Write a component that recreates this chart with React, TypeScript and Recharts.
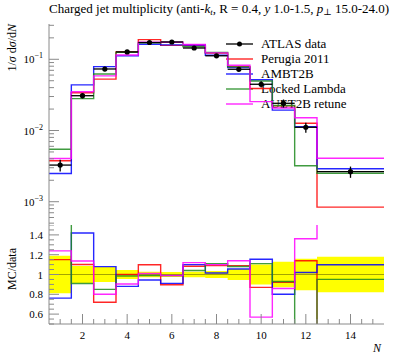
import React from "react";
import {
  Area,
  ComposedChart,
  ErrorBar,
  Label,
  Legend,
  Line,
  Scatter,
  XAxis,
  YAxis,
} from "recharts";

// bins of the charged-particle multiplicity N
const binEdges = [0.5, 1.5, 2.5, 3.5, 4.5, 5.5, 6.5, 7.5, 8.5, 9.5, 10.5, 11.5, 12.5, 15.5];
const binCentres = [1, 2, 3, 4, 5, 6, 7, 8, 9, 10, 11, 12, 14];
const binHalfWidths = [0.5, 0.5, 0.5, 0.5, 0.5, 0.5, 0.5, 0.5, 0.5, 0.5, 0.5, 0.5, 1.5];

// 1/sigma dsigma/dN
const atlasData = [3.27e-3, 0.0308, 0.0731, 0.127, 0.172, 0.175, 0.144, 0.112, 0.0724, 0.0446, 0.0241, 0.0111, 2.64e-3];
const atlasRelErr = [0.19, 0.085, 0.075, 0.045, 0.028, 0.024, 0.028, 0.035, 0.055, 0.1, 0.13, 0.16, 0.18];

const perugia2011 = [3.76e-3, 0.0339, 0.0526, 0.127, 0.189, 0.157, 0.156, 0.122, 0.0789, 0.0388, 0.0222, 0.01265, 8.4e-4];
const ambt2b = [2.49e-3, 0.0437, 0.0789, 0.1118, 0.1625, 0.1593, 0.1584, 0.1137, 0.0764, 0.0515, 0.0193, 0.01132, 2.9e-3];
const lockedLambda = [5.46e-3, 0.028, 0.0621, 0.1251, 0.1703, 0.1733, 0.1498, 0.1243, 0.0782, 0.0495, 0.0224, 3.2e-3, 2.51e-3];
const auet2bRetune = [4.05e-3, 0.035, 0.0585, 0.1149, 0.1737, 0.1733, 0.1613, 0.1232, 0.0825, 0.0254, 0.0207, 0.0151, 4.07e-3];

// axes
const xTickLabels = [2, 4, 6, 8, 10, 12, 14];
const xMinorTicks = [1, 1.5, 2, 2.5, 3, 3.5, 4, 4.5, 5, 5.5, 6, 6.5, 7, 7.5, 8, 8.5, 9, 9.5, 10, 10.5, 11, 11.5, 12, 12.5, 13, 13.5, 14, 14.5, 15];
const logDomain = [4.71e-4, 0.313];
const logDecades = [-4, -3, -2, -1];
const ratioDomain = [0.5, 1.5];
const ratioMajor = [0.6, 0.8, 1, 1.2, 1.4];
const ratioTickLabels = ["0.6", "0.8", "1", "1.2", "1.4"];
const ratioMinorTicks = [0.5, 0.55, 0.6, 0.65, 0.7, 0.75, 0.8, 0.85, 0.9, 0.95, 1, 1.05, 1.1, 1.15, 1.2, 1.25, 1.3, 1.35, 1.4, 1.45, 1.5];

const FONT = "'Liberation Serif', 'Times New Roman', Times, 'DejaVu Serif', serif";
const AXIS = "#8a8a8a";

const series = [
  { key: "perugia", name: "Perugia 2011", color: "#ff0000", values: perugia2011 },
  { key: "ambt2b", name: "AMBT2B", color: "#0000ff", values: ambt2b },
  { key: "locked", name: "Locked Lambda", color: "#1f8a1f", values: lockedLambda },
  { key: "auet2b", name: "AUET2B retune", color: "#ff00ff", values: auet2bRetune },
];

const rows = binEdges.map((x, i) => {
  const b = Math.min(i, atlasData.length - 1);
  const row: Record<string, any> = { x, one: 1, band: [1 - atlasRelErr[b], 1 + atlasRelErr[b]] };
  series.forEach((s) => {
    row[s.key] = s.values[b];
    row[s.key + "R"] = s.values[b] / atlasData[b];
  });
  return row;
});

const points = binCentres.map((x, i) => ({
  x,
  y: atlasData[i],
  ex: binHalfWidths[i],
  ey: atlasData[i] * atlasRelErr[i],
}));

const logTicks: number[] = [];
logDecades.forEach((d) => {
  for (let m = 1; m <= 9; m++) {
    const v = m * Math.pow(10, d);
    if (v >= logDomain[0] && v <= logDomain[1]) logTicks.push(v);
  }
});

const xTick = (side: "top" | "bottom", withLabel: boolean) => (p: any) => {
  const v = p.payload.value;
  const major = xTickLabels.includes(v);
  const dir = side === "bottom" ? -1 : 1;
  return (
    <g>
      <line x1={p.x} x2={p.x} y1={p.y} y2={p.y + dir * (major ? 10 : 5)} stroke={AXIS} />
      {withLabel && major && (
        <text x={p.x} y={p.y + 15} textAnchor="middle" fontSize={11} fontFamily={FONT} fill="#000">
          {v}
        </text>
      )}
    </g>
  );
};

const logTick = (side: "left" | "right") => (p: any) => {
  const v = p.payload.value;
  const lg = Math.log10(v);
  const major = Math.abs(lg - Math.round(lg)) < 1e-9;
  const dir = side === "left" ? 1 : -1;
  return (
    <g>
      <line x1={p.x} x2={p.x + dir * (major ? 10 : 5)} y1={p.y} y2={p.y} stroke={AXIS} />
      {side === "left" && major && (
        <text x={p.x - 6} y={p.y + 4} textAnchor="end" fontSize={11} fontFamily={FONT} fill="#000">
          10
          <tspan dy={-5} fontSize={8}>
            {"\u2212" + Math.abs(Math.round(lg))}
          </tspan>
        </text>
      )}
    </g>
  );
};

const ratioTick = (side: "left" | "right") => (p: any) => {
  const v = p.payload.value;
  const idx = ratioMajor.findIndex((m) => Math.abs(m - v) < 1e-6);
  const dir = side === "left" ? 1 : -1;
  return (
    <g>
      <line x1={p.x} x2={p.x + dir * (idx >= 0 ? 10 : 5)} y1={p.y} y2={p.y} stroke={AXIS} />
      {side === "left" && idx >= 0 && (
        <text x={p.x - 6} y={p.y + 4} textAnchor="end" fontSize={11} fontFamily={FONT} fill="#000">
          {ratioTickLabels[idx]}
        </text>
      )}
    </g>
  );
};

// y label of the upper panel, plus the plot title above the frame
const renderYLabel = (props: any) => {
  const vb = props.viewBox;
  const x = vb.x + 16;
  const y = vb.y;
  return (
    <g>
      <text x={x} y={y} transform={`rotate(-90 ${x} ${y})`} textAnchor="end" fontSize={12} fontFamily={FONT} fill="#000">
        1/<tspan fontStyle="italic">{"\u03c3"}</tspan> d<tspan fontStyle="italic">{"\u03c3"}</tspan>/d
        <tspan fontStyle="italic">N</tspan>
      </text>
      <text x={vb.x + vb.width} y={vb.y - 11} fontSize={13} fontFamily={FONT} fill="#000">
        Charged jet multiplicity (anti-
        <tspan fontStyle="italic">k</tspan>
        <tspan fontStyle="italic" fontSize={9} dy={2}>t</tspan>
        <tspan dy={-2}>, R = 0.4, </tspan>
        <tspan fontStyle="italic">y</tspan>
        <tspan> 1.0-1.5, </tspan>
        <tspan fontStyle="italic">p</tspan>
        <tspan fontSize={9} dy={2}>{"\u22a5"}</tspan>
        <tspan dy={-2}> 15.0-24.0)</tspan>
      </text>
    </g>
  );
};

const renderRatioLabel = (props: any) => {
  const vb = props.viewBox;
  const x = vb.x + 16;
  const y = vb.y + 44;
  return (
    <text x={x} y={y} transform={`rotate(-90 ${x} ${y})`} textAnchor="middle" fontSize={12} fontFamily={FONT} fill="#000">
      MC/data
    </text>
  );
};

const renderXLabel = (props: any) => {
  const vb = props.viewBox;
  return (
    <text x={vb.x + vb.width - 3} y={vb.y + 28} textAnchor="end" fontSize={12} fontStyle="italic" fontFamily={FONT} fill="#000">
      N
    </text>
  );
};

const renderLegend = () => (
  <div style={{ fontFamily: FONT, fontSize: 13, color: "#000" }}>
    {[{ name: "ATLAS data", color: "#000", dot: true }, ...series.map((s) => ({ name: s.name, color: s.color, dot: false }))].map(
      (item) => (
        <div key={item.name} style={{ display: "flex", alignItems: "center", height: 14.9 }}>
          <svg width={35} height={10} style={{ flex: "none" }}>
            <line x1={0} x2={27} y1={5} y2={5} stroke={item.color} strokeWidth={item.dot ? 1.3 : 1.2} />
            {item.dot && <circle cx={13.5} cy={5} r={2.5} fill="#000" />}
          </svg>
          <span style={{ whiteSpace: "nowrap" }}>{item.name}</span>
        </div>
      )
    )}
  </div>
);

const dataDot = (p: any) => <circle cx={p.cx} cy={p.cy} r={2.6} fill="#000" />;

export default function App() {
  return (
    <div style={{ position: "absolute", left: 0, top: 0, width: 397, height: 358, background: "#fff", zIndex: 0 }}>
      <div style={{ position: "absolute", left: 0, top: 0 }}>
        <ComposedChart width={397} height={225} data={rows} margin={{ top: 24, right: 13, bottom: 0, left: 0 }}>
          <XAxis dataKey="x" type="number" domain={[0.5, 15.5]} allowDataOverflow ticks={xMinorTicks} interval={0}
            height={0} tickSize={0} tickMargin={0} tickLine={false} tick={xTick("bottom", false)} stroke={AXIS} />
          <XAxis xAxisId="top" orientation="top" dataKey="x" type="number" domain={[0.5, 15.5]} allowDataOverflow
            ticks={xMinorTicks} interval={0} height={0} tickSize={0} tickMargin={0} tickLine={false}
            tick={xTick("top", false)} stroke={AXIS} />
          <YAxis scale="log" type="number" domain={logDomain} allowDataOverflow ticks={logTicks} interval={0} width={49}
            tickSize={0} tickMargin={0} tickLine={false} tick={logTick("left")} stroke={AXIS}>
            <Label content={renderYLabel} />
          </YAxis>
          <YAxis yAxisId="right" orientation="right" scale="log" type="number" domain={logDomain} allowDataOverflow
            ticks={logTicks} interval={0} width={0} tickSize={0} tickMargin={0} tickLine={false}
            tick={logTick("right")} stroke={AXIS} />
          <Legend content={renderLegend} layout="vertical" align="center" verticalAlign="middle"
            wrapperStyle={{ left: 226, top: 36.5, width: 165, zIndex: -1 }} />
          {series.map((s) => (
            <Line key={s.key} type="stepAfter" dataKey={s.key} stroke={s.color} strokeWidth={1.4} strokeOpacity={0.85}
              dot={false} activeDot={false} isAnimationActive={false} />
          ))}
          <Scatter data={points} dataKey="y" shape={dataDot} isAnimationActive={false}>
            <ErrorBar dataKey="ey" direction="y" width={0} stroke="#000" strokeWidth={1.3} />
            <ErrorBar dataKey="ex" direction="x" width={0} stroke="#000" strokeWidth={1.3} />
          </Scatter>
        </ComposedChart>
      </div>
      <div style={{ position: "absolute", left: 0, top: 225 }}>
        <ComposedChart width={397} height={133} data={rows} margin={{ top: 0, right: 13, bottom: 0, left: 0 }}>
          <XAxis dataKey="x" type="number" domain={[0.5, 15.5]} allowDataOverflow ticks={xMinorTicks} interval={0}
            height={34} tickSize={0} tickMargin={0} tickLine={false} tick={xTick("bottom", true)} stroke={AXIS}>
            <Label content={renderXLabel} />
          </XAxis>
          <XAxis xAxisId="top" orientation="top" dataKey="x" type="number" domain={[0.5, 15.5]} allowDataOverflow
            ticks={xMinorTicks} interval={0} height={0} tickSize={0} tickMargin={0} tickLine={false}
            tick={xTick("top", false)} stroke={AXIS} />
          <YAxis type="number" domain={ratioDomain} allowDataOverflow ticks={ratioMinorTicks} interval={0} width={49}
            tickSize={0} tickMargin={0} tickLine={false} tick={ratioTick("left")} stroke={AXIS}>
            <Label content={renderRatioLabel} />
          </YAxis>
          <YAxis yAxisId="right" orientation="right" type="number" domain={ratioDomain} allowDataOverflow
            ticks={ratioMinorTicks} interval={0} width={0} tickSize={0} tickMargin={0} tickLine={false}
            tick={ratioTick("right")} stroke={AXIS} />
          <Area type="stepAfter" dataKey="band" fill="#ffff00" fillOpacity={1} stroke="none" isAnimationActive={false}
            activeDot={false} />
          <Line type="stepAfter" dataKey="one" stroke="#000" strokeWidth={0.8} strokeOpacity={0.45} dot={false}
            activeDot={false} isAnimationActive={false} />
          {series.map((s) => (
            <Line key={s.key} type="stepAfter" dataKey={s.key + "R"} stroke={s.color} strokeWidth={1.4}
              strokeOpacity={0.85} dot={false} activeDot={false} isAnimationActive={false} />
          ))}
        </ComposedChart>
      </div>
    </div>
  );
}
